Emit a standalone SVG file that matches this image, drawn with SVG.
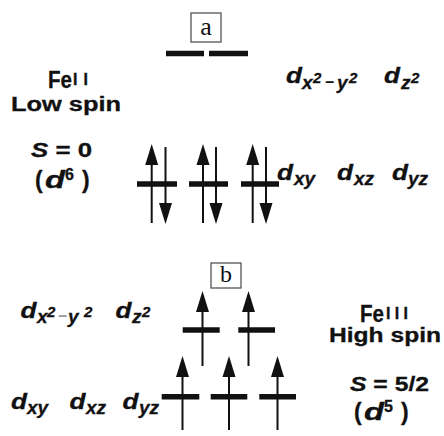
<svg xmlns="http://www.w3.org/2000/svg" width="444" height="436" viewBox="0 0 444 436">
<style>
.t{font-family:"Liberation Sans",Arial,sans-serif;font-weight:bold;fill:#111;stroke:#111;stroke-width:0.3}
.i{font-style:italic}
.m{font-size:22px}
.s{font-size:19px}
.p{font-size:15px}
.lbl{font-family:"Liberation Serif","Times New Roman",serif;fill:#111}
.box{fill:none;stroke:#555;stroke-width:1.3}
.bar{stroke:#111;stroke-width:5.5}
.sh{stroke:#111;stroke-width:2;marker-end:url(#ah)}
</style>
<defs>
<marker id="ah" markerUnits="userSpaceOnUse" markerWidth="22" markerHeight="14" viewBox="0 -7 22 14" refX="0" refY="0" orient="auto">
<path d="M0,-6.5 L21,0 L0,6.5 z" fill="#111"/>
</marker>
</defs>
<rect width="444" height="436" fill="#fff"/>

<g id="panel-a-label">
<rect class="box" x="191" y="13" width="30" height="29"/>
<text class="lbl" x="206" y="35" font-size="26" text-anchor="middle">a</text>
</g>

<g id="feII-text" class="t">
<text x="48" y="88" font-size="23"><tspan textLength="24" lengthAdjust="spacingAndGlyphs">Fe</tspan><tspan x="73" y="85" font-size="16" textLength="15" lengthAdjust="spacing">II</tspan></text>
<text x="11" y="111" font-size="20" textLength="110" lengthAdjust="spacingAndGlyphs">Low spin</text>
<text x="31" y="157" font-size="21" textLength="61" lengthAdjust="spacingAndGlyphs"><tspan class="i">S</tspan> = 0</text>
<text x="35" y="188" font-size="23">(<tspan class="i" x="45" textLength="20" lengthAdjust="spacingAndGlyphs">d</tspan><tspan x="65" y="180" font-size="16">6</tspan><tspan x="82" y="188">)</tspan></text>
</g>

<g id="a-eg-levels">
<line class="bar" x1="166" y1="53.5" x2="204" y2="53.5"/>
<line class="bar" x1="209" y1="53.5" x2="248" y2="53.5"/>
</g>

<g id="a-eg-labels" class="t i">
<text x="286" y="83" class="m" textLength="16" lengthAdjust="spacingAndGlyphs">d</text>
<text x="302" y="89" class="s">x</text>
<text x="313" y="83" class="p">2</text>
<text x="325" y="87" class="p">−</text>
<text x="337" y="89" class="s">y</text>
<text x="349" y="83" class="p">2</text>
<text x="384" y="83" class="m" textLength="16" lengthAdjust="spacingAndGlyphs">d</text>
<text x="401" y="89" class="s">z</text>
<text x="411" y="83" class="p">2</text>
</g>

<g id="a-t2g-levels">
<line class="bar" x1="137" y1="184" x2="177" y2="184"/>
<line class="bar" x1="189" y1="184" x2="228" y2="184"/>
<line class="bar" x1="241" y1="184" x2="279" y2="184"/>
</g>

<g id="a-t2g-labels" class="t i">
<text x="277" y="180" class="m" textLength="16" lengthAdjust="spacingAndGlyphs">d</text>
<text x="294" y="185" class="s">xy</text>
<text x="337" y="180" class="m" textLength="16" lengthAdjust="spacingAndGlyphs">d</text>
<text x="354" y="185" class="s">xz</text>
<text x="392" y="180" class="m" textLength="16" lengthAdjust="spacingAndGlyphs">d</text>
<text x="408" y="185" class="s">yz</text>
</g>

<g id="connectors">
<line class="sh" x1="151.7" y1="223" x2="151.7" y2="165"/>
<line class="sh" x1="165.5" y1="147" x2="165.5" y2="203"/>
<line class="sh" x1="203" y1="223" x2="203" y2="165"/>
<line class="sh" x1="216" y1="147" x2="216" y2="203"/>
<line class="sh" x1="252.7" y1="223" x2="252.7" y2="165"/>
<line class="sh" x1="266" y1="147" x2="266" y2="203"/>

<line class="sh" x1="202.5" y1="366" x2="202.5" y2="312"/>
<line class="sh" x1="248.5" y1="366" x2="248.5" y2="312"/>
<line class="sh" x1="182.5" y1="430" x2="182.5" y2="377"/>
<line class="sh" x1="229" y1="430" x2="229" y2="377"/>
<line class="sh" x1="277.5" y1="430" x2="277.5" y2="377"/>
</g>

<g id="panel-b-label">
<rect class="box" x="211" y="263" width="30" height="25"/>
<text class="lbl" x="226" y="282" font-size="24" text-anchor="middle">b</text>
</g>

<g id="b-eg-levels">
<line class="bar" x1="182.7" y1="330" x2="219.7" y2="330"/>
<line class="bar" x1="238.3" y1="330" x2="275" y2="330"/>
</g>

<g id="b-t2g-levels">
<line class="bar" x1="161.7" y1="396.7" x2="199.3" y2="396.7"/>
<line class="bar" x1="210.7" y1="396.7" x2="247.3" y2="396.7"/>
<line class="bar" x1="259.3" y1="396.7" x2="296" y2="396.7"/>
</g>

<g id="b-eg-labels" class="t i">
<text x="20.5" y="318" class="m" textLength="16" lengthAdjust="spacingAndGlyphs">d</text>
<text x="37" y="323" class="s">x</text>
<text x="47" y="317" class="p">2</text>
<text x="58" y="321" class="p" fill="#999" stroke="#999">−</text>
<text x="68" y="323" class="s">y</text>
<text x="84" y="317" class="p">2</text>
<text x="115.5" y="318" class="m" textLength="16" lengthAdjust="spacingAndGlyphs">d</text>
<text x="132" y="323" class="s">z</text>
<text x="142" y="317" class="p">2</text>
</g>

<g id="b-t2g-labels" class="t i">
<text x="11" y="409" class="m" textLength="16" lengthAdjust="spacingAndGlyphs">d</text>
<text x="27" y="414" class="s">xy</text>
<text x="69.5" y="409" class="m" textLength="16" lengthAdjust="spacingAndGlyphs">d</text>
<text x="86" y="414" class="s">xz</text>
<text x="122.5" y="409" class="m" textLength="16" lengthAdjust="spacingAndGlyphs">d</text>
<text x="139" y="414" class="s">yz</text>
</g>

<g id="feIII-text" class="t">
<text x="360" y="322" font-size="23"><tspan textLength="24" lengthAdjust="spacingAndGlyphs">Fe</tspan><tspan x="386" y="319" font-size="16" textLength="22" lengthAdjust="spacing">III</tspan></text>
<text x="329" y="342" font-size="20" textLength="112" lengthAdjust="spacingAndGlyphs">High spin</text>
<text x="350" y="390.5" font-size="21" textLength="79" lengthAdjust="spacingAndGlyphs"><tspan class="i">S</tspan> = 5/2</text>
<text x="354" y="420" font-size="23">(<tspan class="i" x="364" textLength="20" lengthAdjust="spacingAndGlyphs">d</tspan><tspan x="384" y="412" font-size="16">5</tspan><tspan x="401" y="420">)</tspan></text>
</g>
</svg>
